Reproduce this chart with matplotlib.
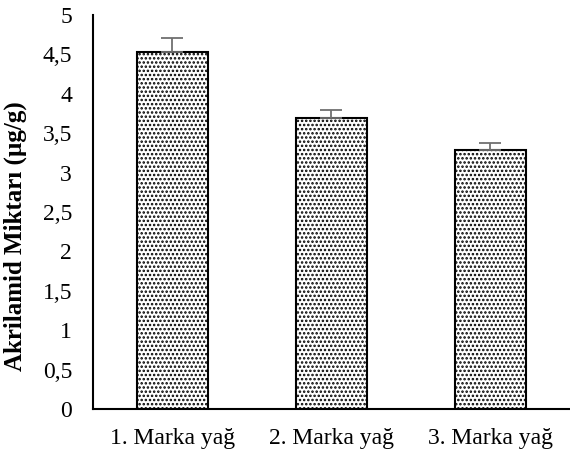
import numpy as np
import matplotlib
matplotlib.use("Agg")
import matplotlib.pyplot as plt

# data
categories = ["1. Marka yağ", "2. Marka yağ", "3. Marka yağ"]
values = [4.53, 3.69, 3.29]
errors = [0.18, 0.11, 0.09]
yticks = [0, 0.5, 1, 1.5, 2, 2.5, 3, 3.5, 4, 4.5, 5]
ytick_labels = ["0", "0,5", "1", "1,5", "2", "2,5", "3", "3,5", "4", "4,5", "5"]

plt.rcParams["font.family"] = ["Liberation Serif", "DejaVu Serif"]
plt.rcParams["hatch.linewidth"] = 1.2

fig = plt.figure(figsize=(5.7, 4.54), dpi=100)
ax = fig.add_axes([0.163, 0.099, 0.837, 0.868])

x = np.arange(len(categories))
ax.bar(x, values, width=0.45, color="white", edgecolor="black",
       linewidth=1.5, hatch="....", zorder=2)
ax.errorbar(x, values, yerr=[np.zeros(len(errors)), errors], fmt="none",
            ecolor="#6f6f6f", elinewidth=1.3, capsize=8, capthick=1.3, zorder=3)

ax.set_xlim(-0.5, 2.5)
ax.set_ylim(0, 5)
ax.set_xticks(x)
ax.set_xticklabels(categories, fontsize=17)
ax.set_yticks(yticks)
ax.set_yticklabels(ytick_labels, fontsize=17)
ax.tick_params(axis="both", length=0)
ax.tick_params(axis="x", pad=14)
ax.tick_params(axis="y", pad=15)

for s in ["top", "right"]:
    ax.spines[s].set_visible(False)
ax.spines["left"].set_linewidth(1.5)
ax.spines["bottom"].set_linewidth(1.5)

ax.set_ylabel("Akrilamid Miktarı (µg/g)", fontsize=18, fontweight="bold")
ax.yaxis.set_label_coords(-0.138, 0.44)

fig.savefig("out.png", dpi=100)
